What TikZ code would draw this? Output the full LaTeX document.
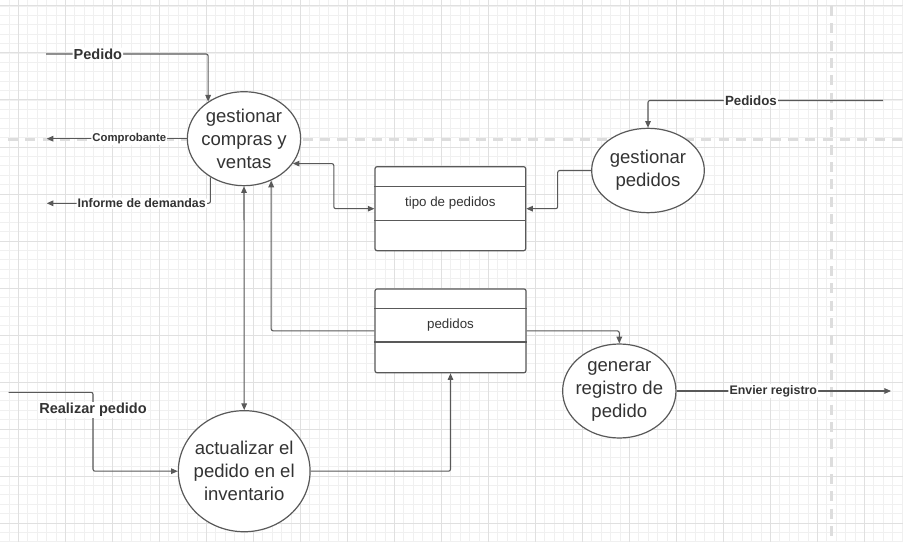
\documentclass[tikz,border=0pt]{standalone}
\usepackage{fontspec}
\setmainfont{Liberation Sans}
\usetikzlibrary{shapes.geometric,arrows.meta,calc}
\definecolor{ln}{HTML}{595959}
\definecolor{tx}{HTML}{333333}
\definecolor{gmin}{HTML}{F0F0F0}
\definecolor{gmaj}{HTML}{E0E0E0}
\definecolor{dsh}{HTML}{DDDDDD}
\begin{document}
\begin{tikzpicture}[x=0.75pt,y=-0.75pt,
 proc/.style={ellipse,draw=ln,line width=0.9pt,fill=white,inner sep=0pt},
 ptext/.style={text=tx,align=center,inner sep=0pt,font=\fontsize{13.9}{17.3}\selectfont},
 store/.style={rectangle,draw=ln,line width=0.9pt,fill=white,rounded corners=1.5pt,inner sep=0pt},
 divider/.style={draw=ln,line width=0.9pt},
 stext/.style={text=tx,inner sep=0pt,font=\fontsize{10}{12}\selectfont},
 flow/.style={draw=ln,line width=0.8pt,rounded corners=1.5pt,-{Triangle[length=5pt,width=4.2pt]}},
 biflow/.style={flow,{Triangle[length=5pt,width=4.2pt]}-{Triangle[length=5pt,width=4.2pt]}},
 lbl/.style={fill=white,inner sep=0.8pt,text=tx,font=\bfseries\fontsize{#1}{#1}\selectfont},
 lbl/.default=10,
 gridmin/.style={draw=gmin,line width=0.55pt},
 gridmaj/.style={draw=gmaj,line width=0.75pt},
 guide/.style={draw=dsh,line width=2.2pt,dash pattern=on 7.5pt off 5.5pt},
]
\useasboundingbox (0,0) rectangle (903,542);
\fill[white] (0,0) rectangle (903,542);
% grid
\foreach \i in {-2,...,95} \draw[gridmin] ({18.3+9.4*\i},0) -- ({18.3+9.4*\i},542);
\foreach \i in {-1,...,57} \draw[gridmin] (0,{6+9.4*\i}) -- (903,{6+9.4*\i});
\foreach \i in {0,...,19} \draw[gridmaj] ({18.3+47*\i},0) -- ({18.3+47*\i},542);
\foreach \i in {0,...,11} \draw[gridmaj] (0,{6+47*\i}) -- (903,{6+47*\i});
% guides
\draw[guide] (8,139.5) -- (903,139.5);
\draw[guide] (831.5,6) -- (831.5,542);

% processes
\node[proc,minimum width=85pt,minimum height=70.5pt] (e1) at (244,138.7) {};
\node[ptext] at (e1.center) {gestionar\\compras y\\ventas};
\node[proc,minimum width=84.5pt,minimum height=63.3pt] (e2) at (648,170.5) {};
\node[ptext] at (e2.center) {gestionar\\pedidos};
\node[proc,minimum width=85pt,minimum height=70.5pt] (e3) at (619.3,391) {};
\node[ptext] at (e3.center) {generar\\registro de\\pedido};
\node[proc,minimum width=98.8pt,minimum height=90.8pt] (e4) at (244.2,471.2) {};
\node[ptext] at (e4.center) {actualizar el\\pedido en el\\inventario};

% stores
\node[store,minimum width=113pt,minimum height=63pt] (b1) at (450.35,208.7) {};
\draw[divider] ($(b1.north west)+(0,20.3)$) -- ($(b1.north east)+(0,20.3)$);
\draw[divider] ($(b1.north west)+(0,54)$) -- ($(b1.north east)+(0,54)$);
\node[stext] at ($(b1.north)+(0,37)$) {tipo de pedidos};
\node[store,minimum width=113.25pt,minimum height=62.8pt] (b2) at (450.5,330.85) {};
\draw[divider] ($(b2.north west)+(0,20)$) -- ($(b2.north east)+(0,20)$);
\draw[divider] ($(b2.north west)+(0,53.7)$) -- ($(b2.north east)+(0,53.7)$);
\node[stext] at ($(b2.north)+(0,36.5)$) {pedidos};

% free ends
\coordinate (pin1) at (46,54);
\coordinate (out2) at (46.7,138.7);
\coordinate (out3) at (46.7,203.3);
\coordinate (pin4) at (883,100.5);
\coordinate (out10) at (891,391);
\coordinate (pin11) at (8.5,392.3);

% flows
\draw[flow] (pin1) -| node[lbl=10.9,pos=0.16] {Pedido} (e1.134.8);
\draw[flow] (e1.west) -- node[lbl=8.5,pos=0.41] {Comprobante} (out2);
\draw[flow] (e1.229.2) |- node[lbl=9.3,pos=0.71] {Informe de demandas} (out3);
\draw[flow] (pin4) -| node[lbl=10,pos=0.281] {Pedidos} (e2.north);
\draw[flow] (e2.west) -- ++(-33.4,0) |- (b1.east);
\draw[biflow] (e1.333) -- ++(41,0) |- (b1.west);
\draw[biflow] (e1.south) -- (e4.north);
\draw[flow] (b2.west) -| (e1.303.2);
\draw[flow] (b2.east) -| (e3.north);
\draw[flow] (e3.east) -- node[lbl=9.3,pos=0.451] {Envier registro} (out10);
\draw[flow] (pin11) -- ++(84.5,0) |- node[lbl=10.9,pos=0.112] {Realizar pedido} (e4.west);
\draw[flow] (e4.east) -| (b2.south);
\end{tikzpicture}
\end{document}
